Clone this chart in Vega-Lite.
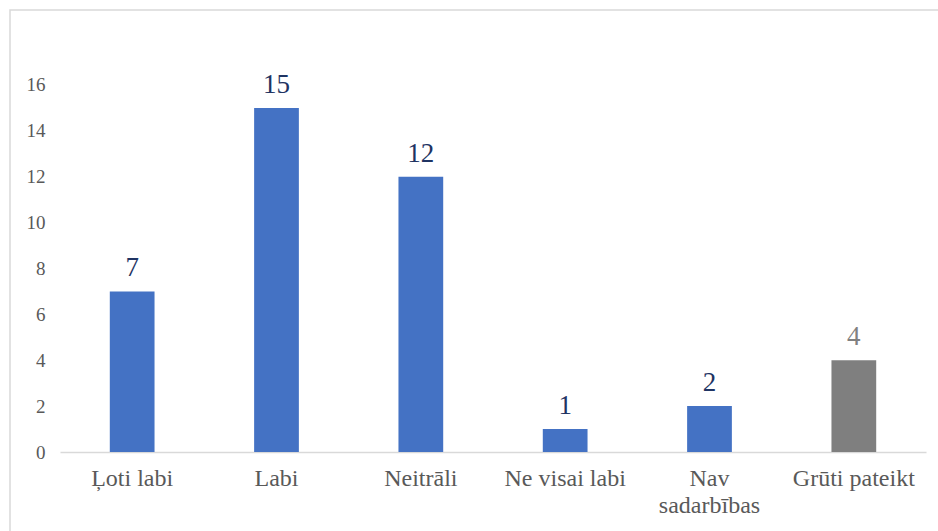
{
  "$schema": "https://vega.github.io/schema/vega-lite/v6.json",
  "autosize": "none",
  "width": 935,
  "height": 530,
  "padding": {"left": 10, "top": 10, "right": 0, "bottom": 0},
  "background": "white",
  "config": {
    "view": {"stroke": "#d9d9d9", "strokeWidth": 1.5},
    "font": "Liberation Serif"
  },
  "data": {
    "values": [
      {"category": "Ļoti labi", "value": 7, "kind": "a"},
      {"category": "Labi", "value": 15, "kind": "a"},
      {"category": "Neitrāli", "value": 12, "kind": "a"},
      {"category": "Ne visai labi", "value": 1, "kind": "a"},
      {"category": "Nav sadarbības", "value": 2, "kind": "a"},
      {"category": "Grūti pateikt", "value": 4, "kind": "b"}
    ]
  },
  "encoding": {
    "x": {
      "field": "category",
      "type": "nominal",
      "sort": null,
      "scale": {"range": [50, 916], "paddingInner": 0.69, "paddingOuter": 0.345},
      "axis": {
        "title": null,
        "offset": -88,
        "labelAngle": 0,
        "labelFont": "Liberation Serif",
        "labelFontSize": 24,
        "labelColor": "#595959",
        "labelPadding": 14,
        "labelLineHeight": 27,
        "labelExpr": "datum.label == 'Nav sadarbības' ? ['Nav', 'sadarbības'] : datum.label",
        "ticks": false,
        "tickSize": 0,
        "domainColor": "#d9d9d9",
        "domainWidth": 1.5,
        "grid": false
      }
    },
    "y": {
      "field": "value",
      "type": "quantitative",
      "scale": {"domain": [-3.836, 19.268], "nice": false, "zero": false},
      "axis": {
        "title": null,
        "values": [0, 2, 4, 6, 8, 10, 12, 14, 16],
        "offset": -35,
        "domain": false,
        "ticks": false,
        "tickSize": 0,
        "grid": false,
        "labelPadding": 0,
        "labelFont": "Liberation Serif",
        "labelFontSize": 19,
        "labelColor": "#595959"
      }
    }
  },
  "layer": [
    {
      "mark": {"type": "bar"},
      "encoding": {
        "y2": {"datum": 0},
        "color": {
          "field": "kind",
          "type": "nominal",
          "scale": {"domain": ["a", "b"], "range": ["#4472c4", "#7f7f7f"]},
          "legend": null
        }
      }
    },
    {
      "mark": {"type": "text", "baseline": "alphabetic", "dy": -15, "fontSize": 27, "font": "Liberation Serif"},
      "encoding": {
        "text": {"field": "value", "type": "quantitative"},
        "color": {
          "field": "kind",
          "type": "nominal",
          "scale": {"domain": ["a", "b"], "range": ["#1f3463", "#808080"]},
          "legend": null
        }
      }
    }
  ],
  "resolve": {"scale": {"color": "independent"}}
}
